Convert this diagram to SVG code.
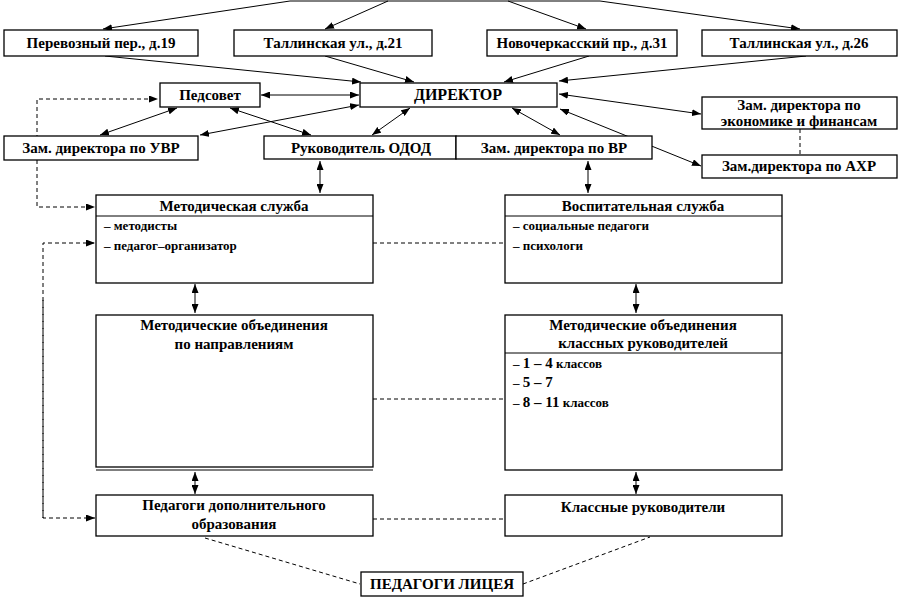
<svg xmlns="http://www.w3.org/2000/svg" width="901" height="600" viewBox="0 0 901 600">
<defs>
<marker id="ah" markerWidth="9" markerHeight="7" refX="9" refY="3.5" orient="auto-start-reverse" markerUnits="userSpaceOnUse">
<path d="M0,0 L9,3.5 L0,7 z" fill="#000"/>
</marker>
<style>
rect{fill:#fff;stroke:#000;stroke-width:1.3}
.l{stroke:#000;stroke-width:1;fill:none}
.a{stroke:#000;stroke-width:1;fill:none;marker-end:url(#ah)}
.b{stroke:#000;stroke-width:1;fill:none;marker-end:url(#ah);marker-start:url(#ah)}
.d{stroke:#000;stroke-width:1;fill:none;stroke-dasharray:4,3}
.da{stroke:#000;stroke-width:1;fill:none;stroke-dasharray:4,3;marker-end:url(#ah)}
text{font-family:"Times New Roman","DejaVu Serif",serif;font-weight:bold;font-size:15px;fill:#000}
.c{text-anchor:middle}
.s{font-size:13px}
.n{font-size:16px}
</style>
</defs>
<rect x="0" y="0" width="901" height="600" style="fill:#fff;stroke:none"/>
<g id="connectors">
<line class="l" x1="290" y1="1" x2="600" y2="1"/>
<line class="a" x1="290" y1="1" x2="103" y2="29"/>
<line class="a" x1="388" y1="1" x2="325" y2="29"/>
<line class="a" x1="508" y1="1" x2="586" y2="29"/>
<line class="a" x1="600" y1="1" x2="800" y2="29"/>
<line class="a" x1="105" y1="56" x2="361" y2="82"/>
<line class="a" x1="325" y1="56" x2="414" y2="82"/>
<line class="a" x1="589" y1="56" x2="504" y2="82"/>
<line class="a" x1="806" y1="56" x2="559" y2="81"/>
<line class="b" x1="261" y1="95" x2="359" y2="95"/>
<line class="b" x1="100" y1="135" x2="177" y2="108"/>
<line class="b" x1="200" y1="135" x2="359" y2="105"/>
<line class="b" x1="230" y1="108" x2="311" y2="135"/>
<line class="b" x1="372" y1="135" x2="410" y2="108"/>
<line class="b" x1="512" y1="108" x2="560" y2="135"/>
<line class="b" x1="559" y1="94" x2="701" y2="114"/>
<line class="b" x1="560" y1="109" x2="701" y2="166"/>
<line class="d" x1="800" y1="129" x2="800" y2="155"/>
<line class="b" x1="320" y1="161" x2="320" y2="193"/>
<line class="b" x1="588" y1="161" x2="588" y2="193"/>
<line class="b" x1="195" y1="284" x2="195" y2="313"/>
<line class="b" x1="636" y1="284" x2="636" y2="313"/>
<line class="b" x1="195" y1="472" x2="195" y2="494"/>
<line class="b" x1="636" y1="472" x2="636" y2="494"/>
<path class="da" d="M37,160 L37,99 L158,99"/>
<path class="da" d="M37,160 L37,207 L95,207"/>
<path class="da" d="M43,518 L43,243 L95,243"/>
<path class="da" d="M43,300 L43,518 L95,518"/>
<line class="d" x1="373" y1="243" x2="505" y2="243"/>
<line class="d" x1="373" y1="399" x2="505" y2="399"/>
<line class="d" x1="373" y1="519" x2="505" y2="519"/>
<line class="d" x1="205" y1="538" x2="360" y2="584"/>
<line class="d" x1="523" y1="584" x2="650" y2="537"/>
</g>
<g id="n-perevozny"><rect x="4" y="30" width="194" height="26"/><text class="c" x="101" y="48">Перевозный пер., д.19</text></g>
<g id="n-tallinn21"><rect x="234" y="30" width="198" height="26"/><text class="c" x="333" y="48">Таллинская ул., д.21</text></g>
<g id="n-novocherk"><rect x="487" y="30" width="190" height="26"/><text class="c" x="582" y="48">Новочеркасский пр., д.31</text></g>
<g id="n-tallinn26"><rect x="702" y="30" width="195" height="26"/><text class="c" x="799" y="48">Таллинская ул., д.26</text></g>
<g id="n-pedsovet"><rect x="160" y="83" width="100" height="24"/><text class="c" x="210" y="100">Педсовет</text></g>
<g id="n-director"><rect x="360" y="83" width="197" height="24"/><text class="c n" x="458" y="100">ДИРЕКТОР</text></g>
<g id="n-uvr"><rect x="4" y="136" width="194" height="24"/><text class="c" x="101" y="153">Зам. директора  по УВР</text></g>
<g id="n-odod"><rect x="264" y="136" width="192" height="23"/><text class="c" x="361" y="153">Руководитель ОДОД</text></g>
<g id="n-vr"><rect x="456" y="136" width="196" height="23"/><text class="c" x="554" y="153">Зам. директора  по ВР</text></g>
<g id="n-econ"><rect x="702" y="97" width="195" height="32"/><text class="c" x="799" y="110">Зам. директора  по</text><text class="c" x="799" y="126">экономике и финансам</text></g>
<g id="n-ahr"><rect x="702" y="155" width="195" height="23"/><text class="c" x="799" y="171">Зам.директора  по АХР</text></g>
<g id="n-metod"><rect x="96" y="195" width="277" height="88"/><line class="l" x1="96" y1="216" x2="373" y2="216"/><text class="c" x="234" y="211">Методическая служба</text><text class="s" x="104" y="230">– методисты</text><text class="s" x="104" y="250">– педагог–организатор</text></g>
<g id="n-vosp"><rect x="505" y="195" width="277" height="88"/><line class="l" x1="505" y1="216" x2="782" y2="216"/><text class="c" x="643" y="211">Воспитательная служба</text><text class="s" x="513" y="230">– социальные педагоги</text><text class="s" x="513" y="250">– психологи</text></g>
<g id="n-mo-napr"><rect x="96" y="315" width="277" height="152"/><line class="l" x1="96" y1="470" x2="373" y2="470"/><text class="c" x="234" y="330">Методические объединения</text><text class="c" x="234" y="349">по направлениям</text></g>
<g id="n-mo-kl"><rect x="505" y="315" width="277" height="155"/><line class="l" x1="505" y1="353" x2="782" y2="353"/><text class="c" x="643" y="330">Методические объединения</text><text class="c" x="643" y="348">классных руководителей</text><text class="s" x="513" y="368">– <tspan font-size="15">1 – 4</tspan> классов</text><text class="s" x="513" y="387">– <tspan font-size="15">5 – 7</tspan></text><text class="s" x="513" y="407">– <tspan font-size="15">8 – 11</tspan> классов</text></g>
<g id="n-ped-dop"><rect x="96" y="495" width="277" height="41"/><text class="c" x="234" y="510">Педагоги дополнительного</text><text class="c" x="234" y="529">образования</text></g>
<g id="n-kl-ruk"><rect x="505" y="495" width="277" height="41"/><text class="c" x="643" y="512">Классные руководители</text></g>
<g id="n-ped-lic"><rect x="361" y="572" width="162" height="24"/><text class="c" x="442" y="589">ПЕДАГОГИ  ЛИЦЕЯ</text></g>
</svg>
